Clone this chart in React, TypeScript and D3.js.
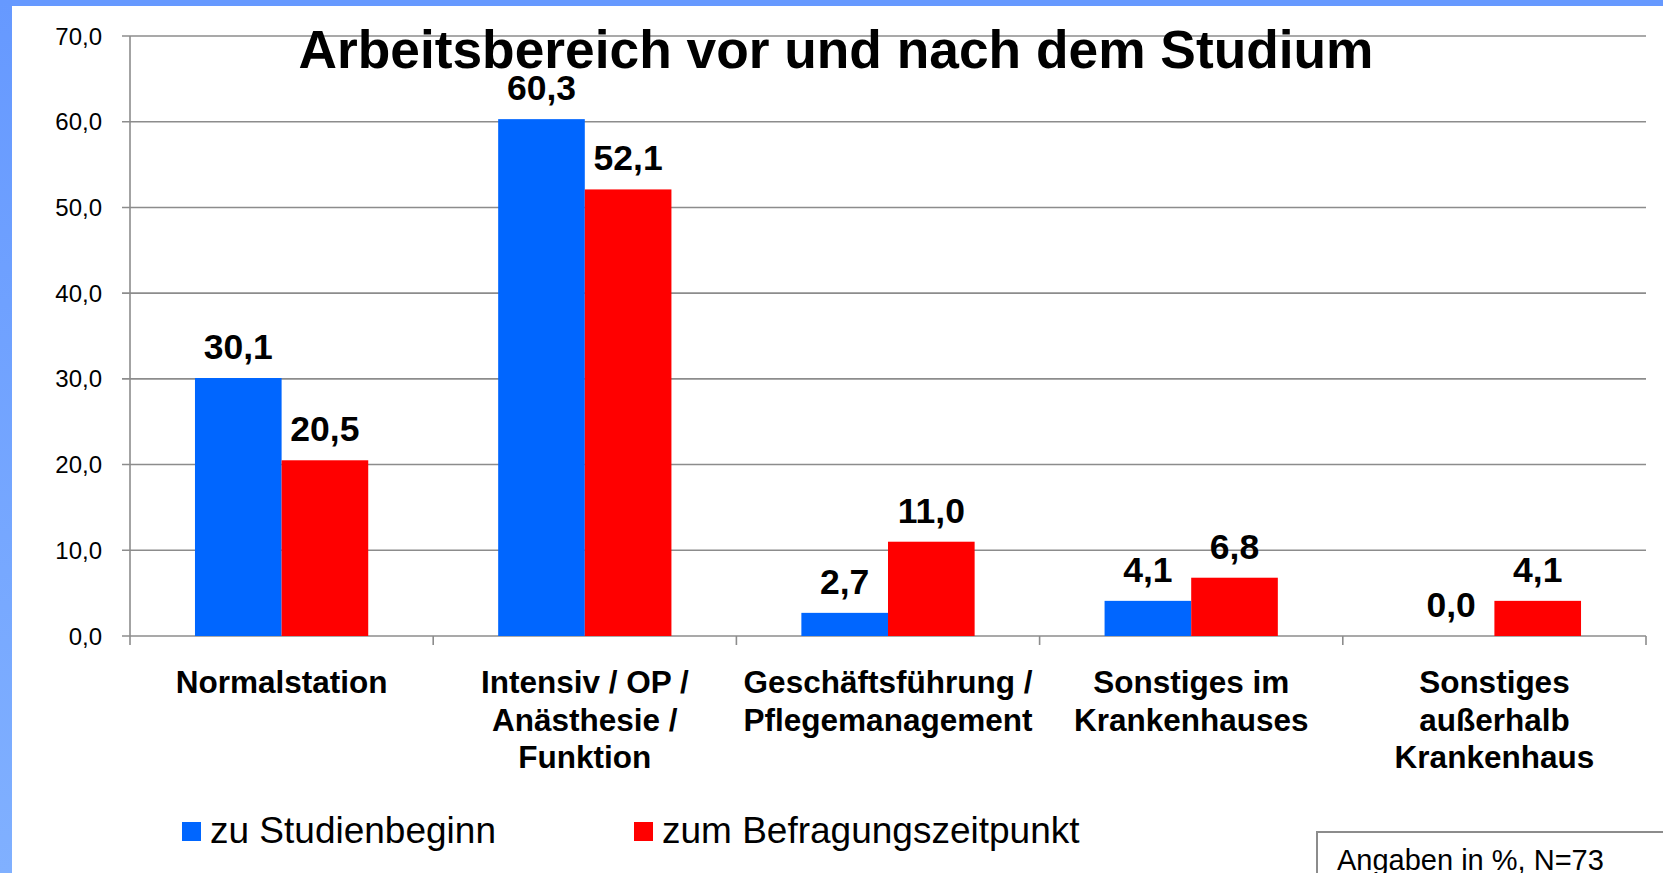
import React from 'react';
import * as d3 from 'd3';

const categories = [
  ['Normalstation'],
  ['Intensiv / OP /', 'Anästhesie /', 'Funktion'],
  ['Geschäftsführung /', 'Pflegemanagement'],
  ['Sonstiges im', 'Krankenhauses'],
  ['Sonstiges', 'außerhalb', 'Krankenhaus'],
];
const seriesNames = ['zu Studienbeginn', 'zum Befragungszeitpunkt'];
const studienbeginn = [30.1, 60.3, 2.7, 4.1, 0.0];
const befragung = [20.5, 52.1, 11.0, 6.8, 4.1];
const yTicks = [0, 10, 20, 30, 40, 50, 60, 70];
const colors = ['#0066ff', '#ff0000'];

const W = 1663;
const H = 873;
const font = '"Liberation Sans", Arial, sans-serif';
const fmt = (v: number) => v.toFixed(1).replace('.', ',');

export default function App() {
  // plot area
  const left = 130;
  const right = 1646;
  const top = 36;
  const bottom = 636;

  const keys = categories.map((c) => c.join(' '));
  const x = d3.scaleBand().domain(keys).range([left, right]).padding(0);
  const x1 = d3.scaleBand().domain(seriesNames).range([0, x.bandwidth()]).paddingInner(0).paddingOuter(0.75);
  const y = d3.scaleLinear().domain([0, 70]).range([bottom, top]);

  const seriesValues = [studienbeginn, befragung];

  return (
    <svg width={W} height={H} style={{ position: 'fixed', left: 0, top: 0, background: '#fff' }}>
      <defs>
        <linearGradient id="sideGrad" x1="0" y1="0" x2="0" y2="1">
          <stop offset="0%" stopColor="#6699ff" />
          <stop offset="100%" stopColor="#80b0ff" />
        </linearGradient>
      </defs>
      <rect x={0} y={0} width={W} height={H} fill="#fff" />
      <rect x={0} y={0} width={W} height={6} fill="#6699ff" />
      <rect x={0} y={0} width={12} height={H} fill="url(#sideGrad)" />

      {/* gridlines */}
      {yTicks.map((t) => (
        <line key={'g' + t} x1={left - 8} x2={right} y1={y(t)} y2={y(t)} stroke="#8c8c8c" strokeWidth={1.6} />
      ))}
      {/* y axis */}
      <line x1={left} x2={left} y1={top} y2={bottom + 9} stroke="#8c8c8c" strokeWidth={1.6} />
      {yTicks.map((t) => (
        <text key={'yl' + t} x={102} y={y(t)} dy="0.36em" textAnchor="end" fontFamily={font} fontSize={24} fill="#000">
          {fmt(t)}
        </text>
      ))}
      {/* category ticks */}
      {keys.map((k) => (
        <line key={'ct' + k} x1={(x(k) as number) + x.bandwidth()} x2={(x(k) as number) + x.bandwidth()} y1={bottom} y2={bottom + 9} stroke="#8c8c8c" strokeWidth={1.6} />
      ))}

      {/* bars */}
      {seriesNames.map((s, si) =>
        keys.map((k, ci) => {
          const v = seriesValues[si][ci];
          const bx = (x(k) as number) + (x1(s) as number);
          return (
            <rect key={s + k} x={bx} y={y(v)} width={x1.bandwidth()} height={bottom - y(v)} fill={colors[si]} />
          );
        })
      )}
      {/* value labels */}
      {seriesNames.map((s, si) =>
        keys.map((k, ci) => {
          const v = seriesValues[si][ci];
          const cx = (x(k) as number) + (x1(s) as number) + x1.bandwidth() / 2;
          return (
            <text key={'v' + s + k} x={cx} y={y(v) - 19} textAnchor="middle" fontFamily={font} fontWeight="bold" fontSize={35.5} fill="#000">
              {fmt(v)}
            </text>
          );
        })
      )}

      {/* title */}
      <text x={836} y={68} textAnchor="middle" fontFamily={font} fontWeight="bold" fontSize={53.3} fill="#000">
        Arbeitsbereich vor und nach dem Studium
      </text>

      {/* category labels */}
      {categories.map((lines, ci) => (
        <text key={'cl' + ci} x={(x(keys[ci]) as number) + x.bandwidth() / 2} y={693} textAnchor="middle" fontFamily={font} fontWeight="bold" fontSize={31.5} fill="#000">
          {lines.map((ln, li) => (
            <tspan key={li} x={(x(keys[ci]) as number) + x.bandwidth() / 2} dy={li === 0 ? 0 : 37.5}>
              {ln}
            </tspan>
          ))}
        </text>
      ))}

      {/* legend */}
      {seriesNames.map((s, si) => {
        const lx = si === 0 ? 182 : 634;
        return (
          <g key={'lg' + s}>
            <rect x={lx} y={822} width={19} height={19} fill={colors[si]} />
            <text x={lx + 28} y={843} fontFamily={font} fontSize={37} fill="#000">
              {s}
            </text>
          </g>
        );
      })}

      {/* note box */}
      <rect x={1317} y={832} width={360} height={60} fill="#fff" stroke="#8c8c8c" strokeWidth={2} />
      <text x={1337} y={870} fontFamily={font} fontSize={29} fill="#000">
        Angaben in %, N=73
      </text>
    </svg>
  );
}
